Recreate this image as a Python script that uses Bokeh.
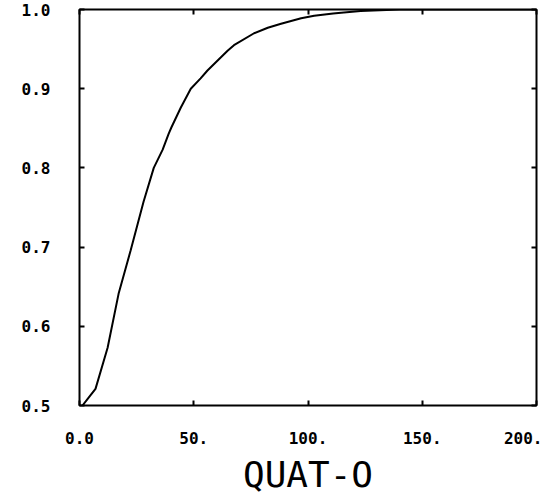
from bokeh.plotting import figure
from bokeh.models import Range1d, LinearAxis, FixedTicker
from bokeh.embed import file_html
from bokeh.resources import INLINE

# data
quat_x = [1.3, 4.0, 7.0, 12.3, 17.1, 22.4, 28.0, 32.5, 36.4, 39.0, 40.2, 44.3, 48.7,
          53.0, 56.0, 64.8, 67.6, 76.4, 82.4, 88.2, 97.0, 102.7, 111.0, 114.5, 123.0,
          140.0, 200.0]
quat_y = [0.500, 0.510, 0.521, 0.573, 0.641, 0.696, 0.757, 0.800, 0.823, 0.843, 0.851,
          0.876, 0.900, 0.913, 0.923, 0.948, 0.955, 0.970, 0.977, 0.982, 0.989, 0.992,
          0.995, 0.996, 0.998, 1.000, 1.000]
x_ticks = [0, 50, 100, 150, 200]
x_tick_labels = ["0.0", "50.", "100.", "150.", "200."]
y_ticks = [0.5, 0.6, 0.7, 0.8, 0.9, 1.0]
y_tick_labels = ["0.5", "0.6", "0.7", "0.8", "0.9", "1.0"]
x_title = "QUAT-O"

FONT = "DejaVu Sans Mono"

p = figure(frame_width=457, frame_height=396,
           x_range=Range1d(0, 200), y_range=Range1d(0.5, 1.0),
           output_backend="svg", toolbar_location=None,
           min_border_left=79, min_border_top=9, min_border_right=6,
           min_border_bottom=10, x_axis_type=None, y_axis_type=None)
p.grid.visible = False
p.outline_line_color = "black"
p.outline_line_width = 2
p.background_fill_color = "white"
p.border_fill_color = "white"


def tick_axis(ticks):
    return LinearAxis(ticker=FixedTicker(ticks=ticks), major_tick_in=5, major_tick_out=0,
                      minor_tick_in=0, minor_tick_out=0,
                      major_tick_line_color="black", major_tick_line_width=2,
                      major_label_text_font_size="0px", major_label_text_color=None,
                      major_label_standoff=0, axis_line_color=None)


xax = LinearAxis(ticker=FixedTicker(ticks=x_ticks),
                 major_label_overrides=dict(zip(x_ticks, x_tick_labels)),
                 major_tick_in=5, major_tick_out=0, minor_tick_in=0, minor_tick_out=0,
                 major_tick_line_color="black", major_tick_line_width=2,
                 axis_line_color=None, major_label_standoff=26,
                 major_label_text_font=FONT, major_label_text_font_style="bold",
                 major_label_text_font_size="16px", major_label_text_color="black",
                 axis_label=x_title, axis_label_text_font=FONT,
                 axis_label_text_font_style="normal", axis_label_text_font_size="36px",
                 axis_label_text_color="black", axis_label_standoff=7)
p.add_layout(xax, "below")

yax = LinearAxis(ticker=FixedTicker(ticks=y_ticks),
                 major_label_overrides=dict(zip(y_ticks, y_tick_labels)),
                 major_tick_in=5, major_tick_out=0, minor_tick_in=0, minor_tick_out=0,
                 major_tick_line_color="black", major_tick_line_width=2,
                 axis_line_color=None, major_label_standoff=29,
                 major_label_text_font=FONT, major_label_text_font_style="bold",
                 major_label_text_font_size="16px", major_label_text_color="black")
p.add_layout(yax, "left")

p.add_layout(tick_axis(x_ticks), "above")
p.add_layout(tick_axis(y_ticks), "right")

p.line(quat_x, quat_y, line_color="black", line_width=2)

open("out.html", "w").write(file_html(p, INLINE))
